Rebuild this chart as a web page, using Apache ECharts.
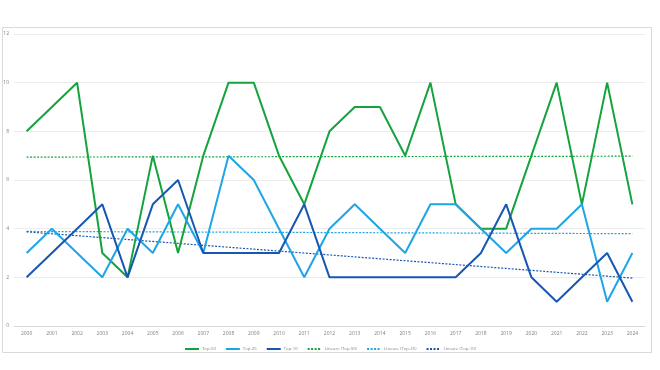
<!DOCTYPE html>
<html><head><meta charset="utf-8">
<script src="https://cdn.jsdelivr.net/npm/echarts@6/dist/echarts.min.js"></script>
<style>html,body{margin:0;padding:0;background:#fff}#c{width:660px;height:370px}</style>
</head><body><div id="c"></div>
<script>
const years = ['2000','2001','2002','2003','2004','2005','2006','2007','2008','2009','2010','2011','2012','2013','2014','2015','2016','2017','2018','2019','2020','2021','2022','2023','2024'];
const top50 = [8,9,10,3,2,7,3,7,10,10,7,5,8,9,9,7,10,5,4,4,7,10,5,10,5];
const top25 = [3,4,3,2,4,3,5,3,7,6,4,2,4,5,4,3,5,5,4,3,4,4,5,1,3];
const top10 = [2,3,4,5,2,5,6,3,3,3,3,5,2,2,2,2,2,2,3,5,2,1,2,3,1];
const yTicks = [0,2,4,6,8,10,12];

function linear(arr){
  const n=arr.length; let sx=0,sy=0,sxy=0,sxx=0;
  arr.forEach((v,i)=>{sx+=i;sy+=v;sxy+=i*v;sxx+=i*i;});
  const b=(n*sxy-sx*sy)/(n*sxx-sx*sx), a=(sy-b*sx)/n;
  return arr.map((v,i)=>+(a+b*i).toFixed(4));
}
const cG='#14a33c', cL='#1ea5e6', cD='#1757b1';
const txt={fontSize:5,color:'#7f7f7f',fontFamily:'Open Sans'};
const solid=(name,data,c)=>({name,type:'line',data,symbol:'none',lineStyle:{color:c,width:2},itemStyle:{color:c},z:3});
const trend=(name,data,c)=>({name,type:'line',data:linear(data),symbol:'none',lineStyle:{color:c,width:1.2,type:[2,1.5]},itemStyle:{color:c},z:2});
const chart=echarts.init(document.getElementById('c'),null,{renderer:'canvas'});
chart.setOption({
  animation:false,
  backgroundColor:'#fff',
  graphic:[{type:'rect',shape:{x:2.5,y:27.5,width:649,height:325},style:{fill:'none',stroke:'#d9d9d9',lineWidth:1},silent:true}],
  grid:{left:14,right:15,top:34,bottom:44},
  xAxis:{type:'category',data:years,boundaryGap:true,
    axisLine:{show:true,lineStyle:{color:'#d9d9d9',width:1}},axisTick:{show:false},
    axisLabel:Object.assign({margin:5,interval:0},txt)},
  yAxis:{type:'value',min:yTicks[0],max:yTicks[yTicks.length-1],interval:2,
    axisLine:{show:false},axisTick:{show:false},
    splitLine:{lineStyle:{color:'#ececec',width:1}},
    axisLabel:Object.assign({margin:5},txt)},
  legend:{top:342,left:'center',itemWidth:14,itemHeight:4,itemGap:9,
    itemStyle:{opacity:0},
    textStyle:{fontSize:4.3,color:'#7f7f7f',fontFamily:'Open Sans',padding:[0,0,0,-2]},
    data:['Top-50','Top-25','Top-10','Lineare (Top-50)','Lineare (Top-25)','Lineare (Top-10)']},
  series:[
    solid('Top-50',top50,cG),solid('Top-25',top25,cL),solid('Top-10',top10,cD),
    trend('Lineare (Top-50)',top50,cG),trend('Lineare (Top-25)',top25,cL),trend('Lineare (Top-10)',top10,cD)
  ]
});
</script></body></html>
